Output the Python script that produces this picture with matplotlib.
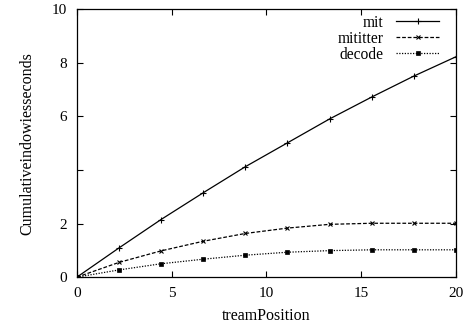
import matplotlib
matplotlib.use('Agg')
import matplotlib.pyplot as plt

# stream position samples (10 points from 0 to 20)
positions = [0, 2.22, 4.44, 6.67, 8.89, 11.11, 13.33, 15.56, 17.78, 20]

# cumulative window sizes for each series
mit = [0, 1.09, 2.15, 3.15, 4.12, 5.01, 5.90, 6.72, 7.50, 8.22]
mititter = [0, 0.55, 0.98, 1.34, 1.63, 1.83, 1.97, 2.01, 2.01, 2.01]
decode = [0, 0.27, 0.50, 0.67, 0.82, 0.93, 0.99, 1.02, 1.02, 1.02]

xticks = [0, 5, 10, 15, 20]
yticks = [0, 2, 4, 6, 8, 10]
ytick_labels = ['0', '2', '', '6', '8', '10']

plt.rcParams['font.family'] = ['Liberation Serif', 'DejaVu Serif']
plt.rcParams['font.size'] = 11

fig = plt.figure(figsize=(4.66, 3.28), dpi=100)
ax = fig.add_axes([0.165, 0.155, 0.8135, 0.8175])

ax.plot(positions, mit, color='black', linestyle='-', linewidth=0.9,
        marker='+', markersize=4, markeredgewidth=0.8, label='mit')
ax.plot(positions, mititter, color='black', linestyle=(0, (3, 1.5)), linewidth=0.9,
        marker='x', markersize=3.5, markeredgewidth=0.8, label='mititter')
ax.plot(positions, decode, color='black', linestyle=(0, (1, 1.2)), linewidth=0.9,
        marker='s', markersize=2.5, markeredgewidth=0.5, label='decode')

ax.set_xlim(0, 20)
ax.set_ylim(0, 10)
ax.set_xticks(xticks)
ax.set_yticks(yticks)
ax.set_yticklabels(ytick_labels)
ax.tick_params(direction='in', top=True, right=True, length=4, width=0.8, pad=7)
for s in ax.spines.values():
    s.set_linewidth(0.9)

ax.set_xlabel('treamPosition', fontsize=11.5, labelpad=6)
ax.set_ylabel('Cumulativeindowiesseconds', fontsize=11.5, labelpad=12)

ax.legend(loc='upper right', frameon=False, markerfirst=False,
          handlelength=2.8, handletextpad=0.8, labelspacing=0.0,
          borderaxespad=0.3, bbox_to_anchor=(0.985, 1.02), fontsize=11.2)

plt.savefig('out.png', dpi=100)
